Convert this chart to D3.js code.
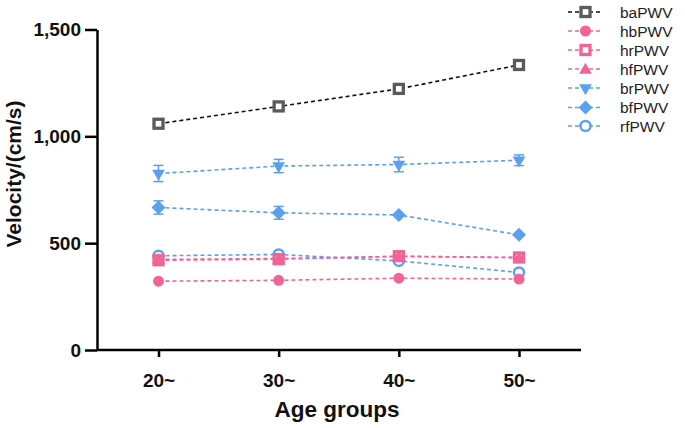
<!DOCTYPE html>
<html><head><meta charset="utf-8">
<script src="https://cdn.jsdelivr.net/npm/d3@7"></script>
<style>body{margin:0;background:#fff}svg{display:block}</style>
</head><body>
<svg id="c" width="685" height="428"></svg>
<script>
const categories = ["20~","30~","40~","50~"];
const yTicks = [0,500,1000,1500];
const seriesNames = ["baPWV","hbPWV","hrPWV","hfPWV","brPWV","bfPWV","rfPWV"];
const baPWV = [1059,1140,1222,1334];
const hbPWV = [322,326,336,332];
const hrPWV = [420,425,439,433];
const hfPWV = [424,428,438,432];
const brPWV = [826,861,868,888];
const brErr = [38,31,34,25];
const bfPWV = [667,642,632,539];
const bfErr = [31,30,0,0];
const rfPWV = [441,447,417,363];
const zeroErr = [0,0,0,0];

const pink = "#F06595", blue = "#5AA0EE", gray = "#5a5a5a";
const series = [
  {name:"baPWV", v:baPWV, e:zeroErr, color:gray, line:"#111", marker:"squareOpen"},
  {name:"hbPWV", v:hbPWV, e:zeroErr, color:pink, line:pink, marker:"circle"},
  {name:"hrPWV", v:hrPWV, e:zeroErr, color:pink, line:pink, marker:"squareOpen"},
  {name:"hfPWV", v:hfPWV, e:zeroErr, color:pink, line:pink, marker:"triangle"},
  {name:"brPWV", v:brPWV, e:brErr, color:blue, line:blue, marker:"triangleDown"},
  {name:"bfPWV", v:bfPWV, e:bfErr, color:blue, line:blue, marker:"diamond"},
  {name:"rfPWV", v:rfPWV, e:zeroErr, color:blue, line:blue, marker:"circleOpen"}
];
const FONT = "Liberation Sans, Arial, sans-serif";

const svg = d3.select("#c");
const x = d3.scalePoint().domain(categories).range([158.5,519]);
const y = d3.scaleLinear().domain([0,1500]).range([350,29.5]);

// axes
const ax = svg.append("g").attr("transform","translate(0,350)")
  .call(d3.axisBottom(x).tickSize(7).tickSizeOuter(0).tickPadding(17));
ax.select(".domain").remove();
ax.append("line").attr("x1",97).attr("x2",581).attr("y1",0).attr("y2",0).attr("stroke","#000").attr("stroke-width",2.5);
ax.selectAll(".tick line").attr("stroke-width",2.5);
ax.selectAll(".tick text").attr("font-family",FONT).attr("font-weight","bold").attr("font-size",19).attr("fill","#111");

const ay = svg.append("g").attr("transform","translate(97,0)")
  .call(d3.axisLeft(y).tickValues(yTicks).tickFormat(d3.format(",")).tickSize(12).tickSizeOuter(0).tickPadding(4));
ay.select(".domain").attr("stroke-width",2.5);
ay.selectAll(".tick line").attr("stroke-width",2.5);
ay.selectAll(".tick text").attr("font-family",FONT).attr("font-weight","bold").attr("font-size",19).attr("fill","#111");

svg.append("text").attr("x",337).attr("y",417).attr("text-anchor","middle")
  .attr("font-family",FONT).attr("font-weight","bold").attr("font-size",22.5).attr("fill","#111").text("Age groups");
svg.append("text").attr("transform","translate(21,174) rotate(-90)").attr("text-anchor","middle")
  .attr("font-family",FONT).attr("font-weight","bold").attr("font-size",21).attr("fill","#111").text("Velocity/(cm/s)");

function drawMarker(g, type, color, cx, cy){
  if(type==="squareOpen"){
    g.append("rect").attr("x",cx-4.5).attr("y",cy-4.5).attr("width",9).attr("height",9)
      .attr("fill","#fff").attr("stroke",color).attr("stroke-width",3.3);
  } else if(type==="circle"){
    g.append("circle").attr("cx",cx).attr("cy",cy).attr("r",5.5).attr("fill",color);
  } else if(type==="circleOpen"){
    g.append("circle").attr("cx",cx).attr("cy",cy).attr("r",5).attr("fill","#fff").attr("stroke",color).attr("stroke-width",2.5);
  } else if(type==="triangle"){
    g.append("path").attr("d",d3.symbol(d3.symbolTriangle,70)()).attr("transform",`translate(${cx},${cy+1})`).attr("fill",color);
  } else if(type==="triangleDown"){
    g.append("path").attr("d",d3.symbol(d3.symbolTriangle,70)()).attr("transform",`translate(${cx},${cy}) rotate(180)`).attr("fill",color);
  } else if(type==="diamond"){
    g.append("path").attr("d",`M${cx},${cy-7}L${cx+7},${cy}L${cx},${cy+7}L${cx-7},${cy}Z`).attr("fill",color);
  }
}

const line = d3.line().x((d,i)=>x(categories[i])).y(d=>y(d));
const order = ["rfPWV","bfPWV","brPWV","hbPWV","hrPWV","hfPWV","baPWV"];
order.forEach(n=>{
  const s = series.find(d=>d.name===n);
  const g = svg.append("g");
  g.append("path").attr("d",line(s.v)).attr("fill","none").attr("stroke",s.line)
    .attr("stroke-width",1.6).attr("stroke-dasharray","4,3");
  s.v.forEach((v,i)=>{
    const e = s.e[i], cx = x(categories[i]);
    if(e>0){
      g.append("line").attr("x1",cx).attr("x2",cx).attr("y1",y(v-e)).attr("y2",y(v+e)).attr("stroke",s.color).attr("stroke-width",1.5);
      [v-e,v+e].forEach(t=>g.append("line").attr("x1",cx-5).attr("x2",cx+5).attr("y1",y(t)).attr("y2",y(t)).attr("stroke",s.color).attr("stroke-width",1.5));
    }
    drawMarker(g, s.marker, s.color, cx, y(v));
  });
});

// legend
const lg = svg.append("g");
const rows = [12,31,50,69,88,107.5,126];
series.forEach((s,i)=>{
  const yy = rows[i];
  lg.append("line").attr("x1",568).attr("x2",603).attr("y1",yy).attr("y2",yy).attr("stroke",s.line)
    .attr("stroke-width",1.6).attr("stroke-dasharray","4,3");
  drawMarker(lg, s.marker, s.color, 585.5, yy);
  lg.append("text").attr("x",620).attr("y",yy+5.5).attr("font-family",FONT)
    .attr("font-size",15.5).attr("fill","#222").text(s.name);
});
</script>
</body></html>
